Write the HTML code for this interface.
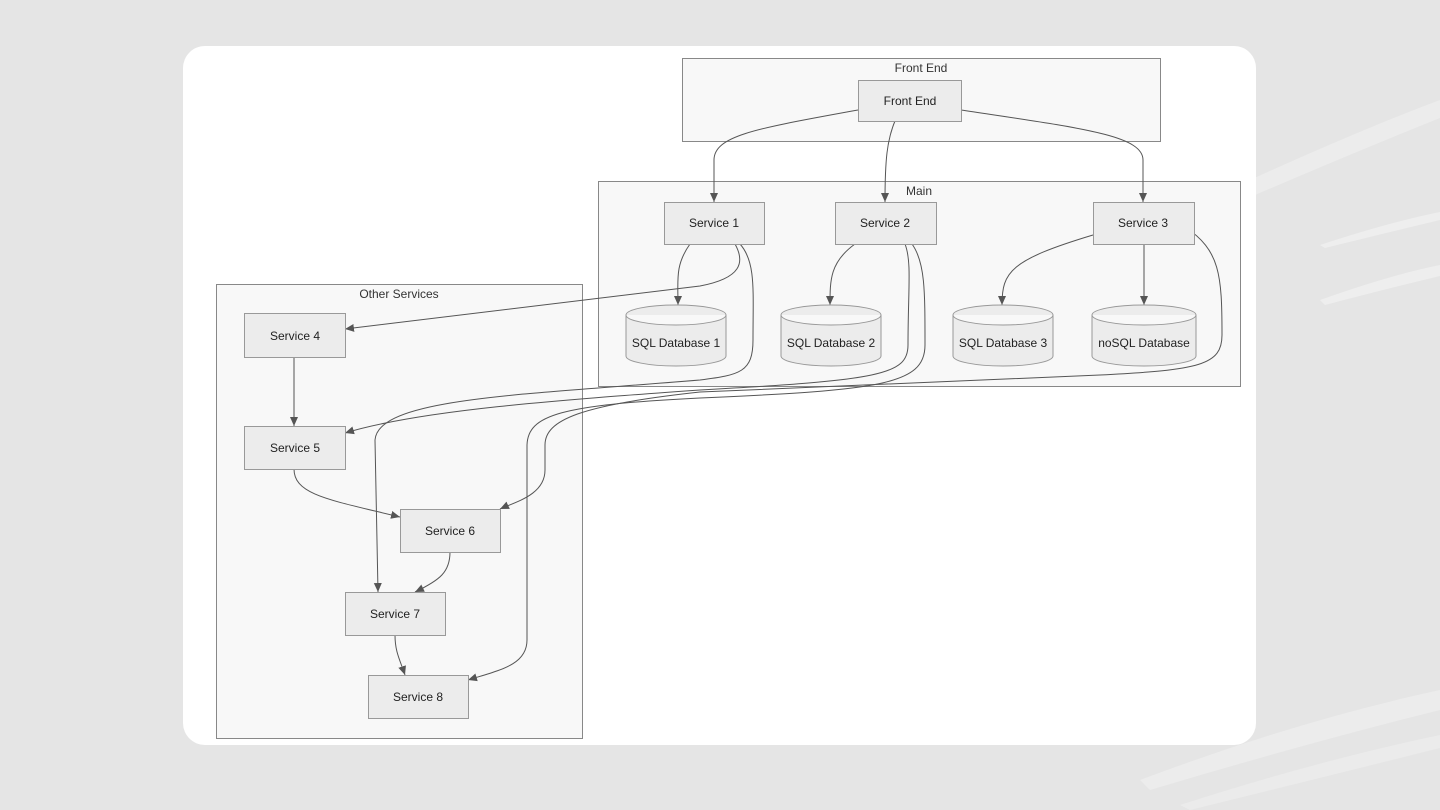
<!DOCTYPE html>
<html><head><style>
body{margin:0;width:1440px;height:810px;background:#e5e5e5;overflow:hidden;font-family:"Liberation Sans","DejaVu Sans",sans-serif}
</style></head><body>
<svg width="1440" height="810" xmlns="http://www.w3.org/2000/svg" style="position:absolute;left:0;top:0">
<defs><marker id="a" markerWidth="10" markerHeight="10" refX="9" refY="5" orient="auto" markerUnits="userSpaceOnUse"><path d="M0,1 L9,5 L0,9 z" fill="#555"/></marker></defs>
<path d="M1250,180 Q1360,130 1440,100 L1440,118 Q1360,150 1255,195 z" fill="#ececec"/>
<path d="M1320,245 Q1390,222 1440,212 L1440,220 Q1390,232 1325,248 z" fill="#eeeeee"/>
<path d="M1320,300 Q1390,275 1440,265 L1440,276 Q1390,288 1325,305 z" fill="#eeeeee"/>
<path d="M1140,780 Q1300,720 1440,690 L1440,710 Q1300,745 1150,790 z" fill="#ececec"/>
<path d="M1180,805 Q1320,760 1440,735 L1440,748 Q1320,778 1190,810 z" fill="#ebebeb"/>
<rect x="183" y="46" width="1073" height="699" rx="22" fill="#fff"/>
<g fill="#f8f8f8" stroke="#888" stroke-width="1">
<rect x="682.5" y="58.5" width="478" height="83"/>
<rect x="598.5" y="181.5" width="642" height="205"/>
<rect x="216.5" y="284.5" width="366" height="454"/>
</g>
<g font-size="12" fill="#333" text-anchor="middle">
<text x="921" y="72">Front End</text><text x="919" y="195">Main</text><text x="399" y="298">Other Services</text>
</g>
<g fill="none" stroke="#555" stroke-width="1" marker-end="url(#a)">
<path d="M858,110 C760,128 714,135 714,160 L714,202"/>
<path d="M895,121 C887,140 885,160 885,202"/>
<path d="M961,110 C1080,128 1143,135 1143,160 L1143,202"/>
<path d="M690,244 C675,265 678,280 678,305"/>
<path d="M855,244 C830,262 830,280 830,305"/>
<path d="M1093,235 C1010,260 1002,272 1002,305"/>
<path d="M1144,244 L1144,305"/>
<path d="M294,357 L294,426"/>
<path d="M735,244 C745,262 742,278 700,286 L345,329"/>
<path d="M740,244 C756,262 753,290 753,340 C753,372 740,375 700,380 C520,395 378,398 375,440 L378,592"/>
<path d="M905,244 C912,262 908,290 908,345 C908,375 880,380 700,390 C560,400 420,410 345,433"/>
<path d="M912,244 C925,262 925,290 925,345 C925,385 880,390 700,398 C560,405 528,415 527,445 L527,640 C527,665 500,670 468,680"/>
<path d="M1185,227 C1220,250 1222,275 1222,335 C1222,365 1200,370 1100,375 L700,392 C580,405 545,420 545,445 L545,470 C545,495 515,502 500,509"/>
<path d="M294,469 C294,495 330,500 400,517"/>
<path d="M450,552 C450,572 440,580 415,592"/>
<path d="M395,635 C395,652 400,660 405,675"/>
</g>
<g fill="#ececec" stroke="#999" stroke-width="1">
<rect x="858.5" y="80.5" width="103" height="41"/>
<rect x="664.5" y="202.5" width="100" height="42"/>
<rect x="835.5" y="202.5" width="101" height="42"/>
<rect x="1093.5" y="202.5" width="101" height="42"/>
<rect x="244.5" y="313.5" width="101" height="44"/>
<rect x="244.5" y="426.5" width="101" height="43"/>
<rect x="400.5" y="509.5" width="100" height="43"/>
<rect x="345.5" y="592.5" width="100" height="43"/>
<rect x="368.5" y="675.5" width="100" height="43"/>
<path d="M626,315 A50,10 0 0 1 726,315 L726,356 A50,10 0 0 1 626,356 Z M626,315 A50,10 0 0 0 726,315"/>
<path d="M781,315 A50,10 0 0 1 881,315 L881,356 A50,10 0 0 1 781,356 Z M781,315 A50,10 0 0 0 881,315"/>
<path d="M953,315 A50,10 0 0 1 1053,315 L1053,356 A50,10 0 0 1 953,356 Z M953,315 A50,10 0 0 0 1053,315"/>
<path d="M1092,315 A52,10 0 0 1 1196,315 L1196,356 A52,10 0 0 1 1092,356 Z M1092,315 A52,10 0 0 0 1196,315"/>
</g>
<g font-size="12" fill="#222" text-anchor="middle">
<text x="910" y="105">Front End</text>
<text x="714" y="227">Service 1</text><text x="885" y="227">Service 2</text><text x="1143" y="227">Service 3</text>
<text x="676" y="347">SQL Database 1</text><text x="831" y="347">SQL Database 2</text><text x="1003" y="347">SQL Database 3</text><text x="1144" y="347">noSQL Database</text>
<text x="295" y="340">Service 4</text><text x="295" y="452">Service 5</text><text x="450" y="535">Service 6</text><text x="395" y="618">Service 7</text><text x="418" y="701">Service 8</text>
</g>
</svg>
</body></html>
